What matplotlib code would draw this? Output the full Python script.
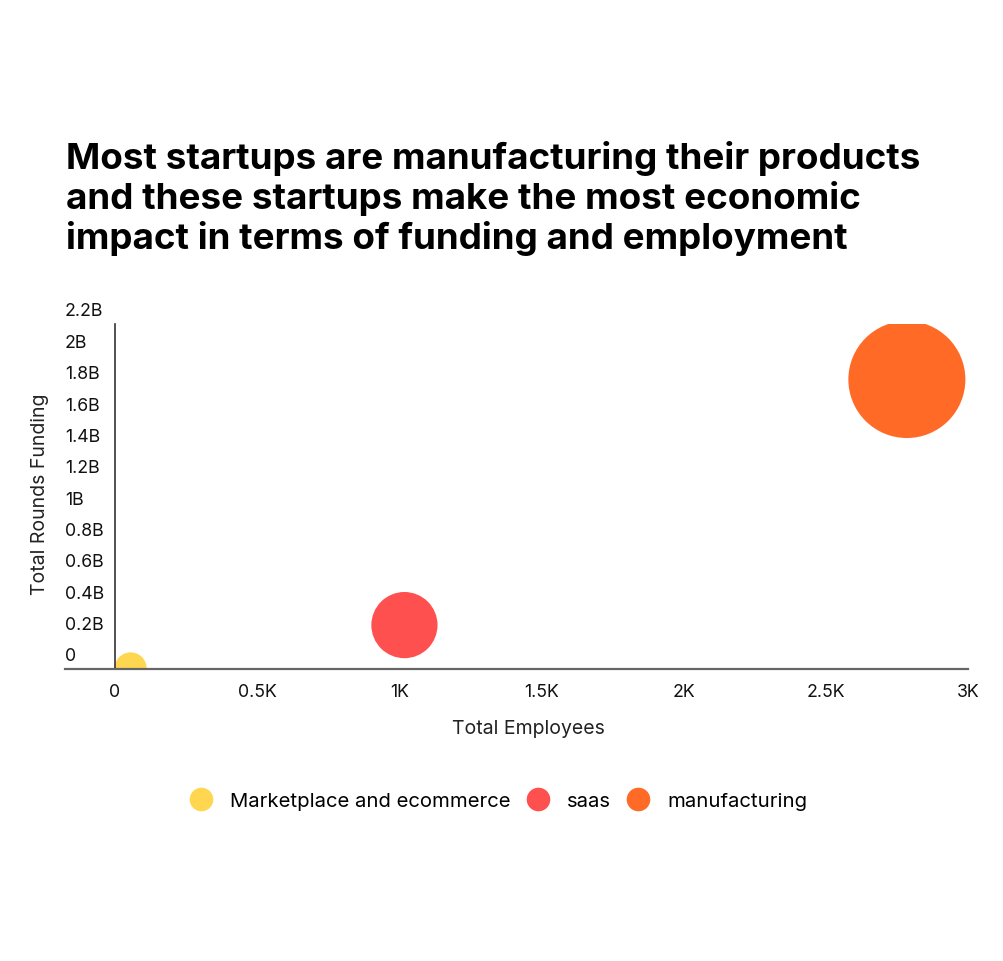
import matplotlib
matplotlib.use("Agg")
import matplotlib.pyplot as plt
from matplotlib.lines import Line2D
from matplotlib.transforms import ScaledTranslation, blended_transform_factory

plt.rcParams['font.family'] = ['Inter', 'DejaVu Sans']

# data
categories = ['Marketplace and ecommerce', 'saas', 'manufacturing']
employees = [55, 1018, 2785]
funding = [0.004e9, 0.28e9, 1.846e9]
bubble_value = [7.5, 32, 100]   # relative bubble area
colors = ['#FFD64F', '#FF5050', '#FF6B27']

x_ticks = [0, 500, 1000, 1500, 2000, 2500, 3000]
x_labels = ['0', '0.5K', '1K', '1.5K', '2K', '2.5K', '3K']
y_ticks = [i * 0.2e9 for i in range(12)]
y_labels = ['0', '0.2B', '0.4B', '0.6B', '0.8B', '1B', '1.2B', '1.4B',
            '1.6B', '1.8B', '2B', '2.2B']

title = ('Most startups are manufacturing their products\n'
         'and these startups make the most economic\n'
         'impact in terms of funding and employment')

W, H = 1004, 962
fig = plt.figure(figsize=(W / 100, H / 100), dpi=100)
ax = fig.add_axes([65 / W, (H - 670) / H, 903 / W, 345 / H])

max_s = 7100
sizes = [max_s * v / max(bubble_value) for v in bubble_value]
for xi, yi, s, c in zip(employees, funding, sizes, colors):
    ax.scatter(xi, yi, s=s, color=c, edgecolors='none', zorder=3)

ax.set_xlim(-175.8, 3000)
ax.set_ylim(0, 2.2e9)

for side in ['top', 'right']:
    ax.spines[side].set_visible(False)
ax.spines['left'].set_position(('data', 0))
ax.spines['left'].set_color('#333333')
ax.spines['left'].set_linewidth(1.2)
ax.spines['bottom'].set_color('#666666')
ax.spines['bottom'].set_linewidth(1.6)
ax.spines['left'].set_zorder(4)
ax.spines['bottom'].set_zorder(4)

ax.set_xticks(x_ticks, x_labels)
ax.tick_params(axis='x', length=0, pad=10, labelsize=12.8, labelcolor='#111111')
ax.set_yticks(y_ticks)
ax.set_yticklabels([])
ax.tick_params(axis='y', length=0)

# y tick labels sit above their tick, left aligned
trans = blended_transform_factory(ax.transAxes, ax.transData) + \
    ScaledTranslation(0, 13 / 100, fig.dpi_scale_trans)
for v, lab in zip(y_ticks, y_labels):
    ax.text(0, v, lab, transform=trans, ha='left', va='center',
            fontsize=12.8, color='#111111')

fig.text(40 / W, 1 - 494 / H, 'Total Rounds Funding', rotation=90,
         ha='center', va='center', fontsize=14, color='#222222')
fig.text(528 / W, 1 - 729 / H, 'Total Employees', ha='center', va='center',
         fontsize=14, color='#222222')

fig.text(66 / W, 1 - 141 / H, title, ha='left', va='top', fontsize=26.5,
         fontweight='bold', linespacing=1.17, color='#000000')

handles = [Line2D([], [], marker='o', linestyle='none', markersize=17,
                  markerfacecolor=c, markeredgecolor='none') for c in colors]
fig.legend(handles, categories, loc='center', ncol=3,
           bbox_to_anchor=(498 / W, 1 - 802 / H), frameon=False,
           fontsize=14.6, handletextpad=0.85, columnspacing=0.72,
           handlelength=1.2)

fig.savefig('out.png', dpi=100, facecolor='white')
